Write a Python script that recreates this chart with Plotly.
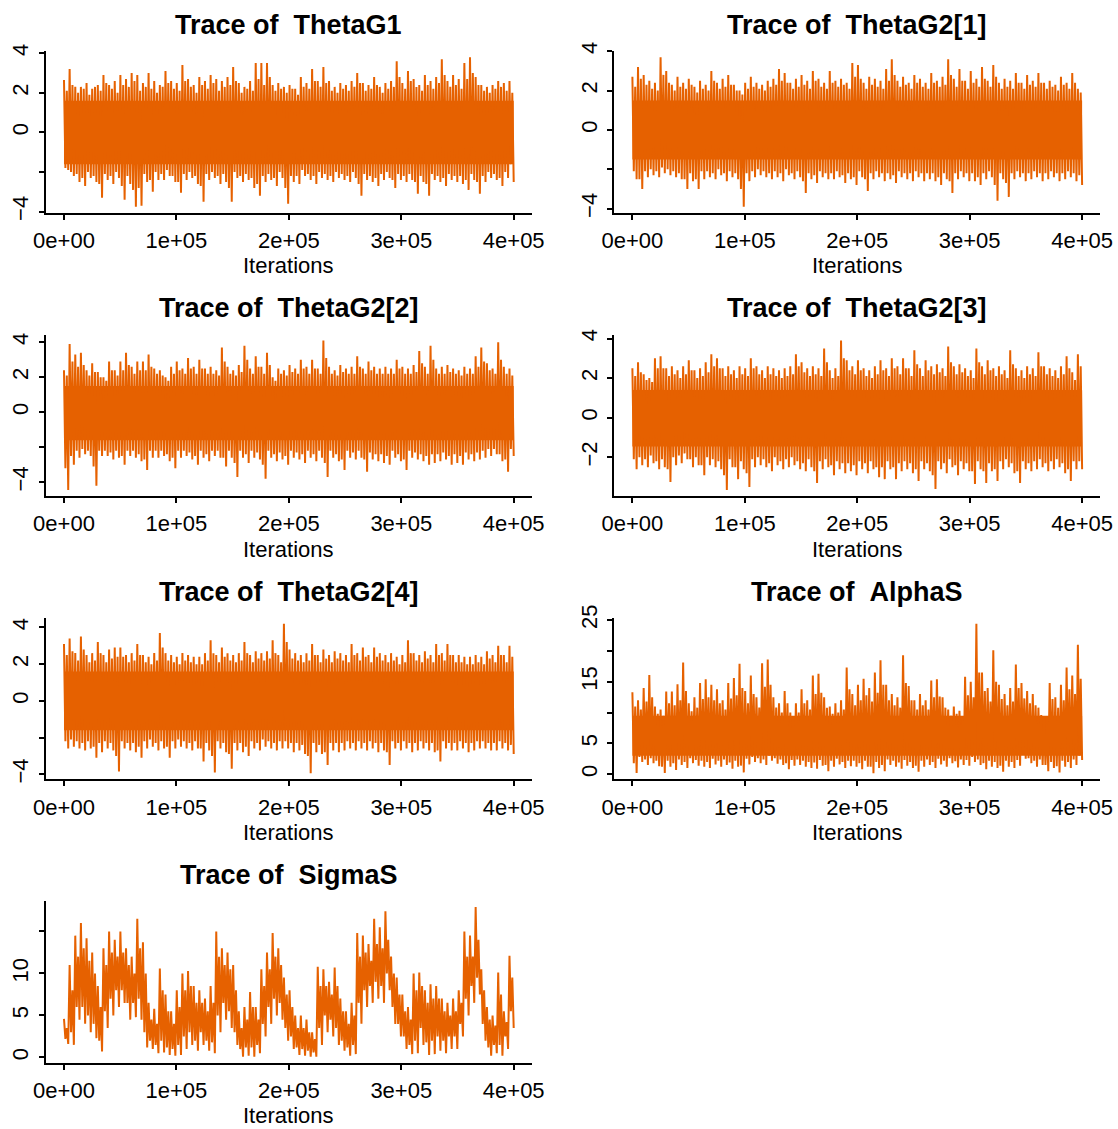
import numpy as np
import plotly.graph_objects as go

# ---------------- data ----------------
# Each chain is summarised in 80 bins of 5000 iterations:
#   hi / lo   = highest / lowest excursion in the bin
#   hi2 / lo2 = secondary (typical) excursion in the bin
#   core      = range that the chain covers solidly
n_iter = 400000
x_tickvals = [0, 100000, 200000, 300000, 400000]
x_ticktext = ["0e+00", "1e+05", "2e+05", "3e+05", "4e+05"]

thetaG1_hi = [2.65, 3.2, 2.3, 2.3, 2.5, 2.2, 2.4, 2.9, 2.4, 2.6, 2.9, 2.7, 3.0, 2.9, 2.5, 3.0, 2.6, 2.4, 3.1, 2.6,
              2.5, 3.4, 2.7, 2.4, 2.8, 2.6, 2.9, 2.7, 2.6, 2.8, 3.3, 2.5, 2.3, 2.6, 3.5, 3.5, 3.5, 2.4, 2.5, 2.3,
              2.4, 2.2, 2.8, 2.5, 3.2, 2.6, 3.3, 2.6, 2.3, 2.5, 2.4, 2.6, 3.0, 2.5, 2.4, 2.8, 2.3, 2.5, 2.6, 3.6,
              2.5, 3.1, 2.7, 2.4, 2.9, 2.6, 2.8, 3.7, 2.6, 2.9, 2.7, 3.5, 3.8, 2.8, 2.4, 2.3, 2.4, 2.6, 2.5, 2.6]
thetaG1_lo = [-1.9, -2.2, -2.5, -2.7, -2.3, -2.5, -3.3, -2.4, -2.6, -2.3, -3.4, -2.6, -3.75, -3.7, -2.5, -3.0, -2.4, -2.4, -2.2, -2.5,
              -3.05, -2.4, -2.3, -2.6, -3.5, -2.4, -2.3, -2.6, -2.5, -3.5, -2.3, -2.5, -2.4, -2.8, -3.2, -2.5, -2.4, -2.7, -2.3, -3.6,
              -2.5, -2.6, -2.2, -2.4, -2.6, -2.3, -2.4, -2.5, -2.3, -2.4, -2.5, -2.3, -3.2, -2.4, -2.5, -2.7, -2.4, -2.3, -2.8, -2.4,
              -2.5, -2.4, -3.1, -2.5, -3.2, -2.4, -2.5, -2.7, -2.4, -2.5, -2.6, -2.9, -2.4, -3.1, -2.5, -2.3, -2.4, -2.7, -2.3, -2.5]
thetaG1_hi2 = [2.1, 2.4, 2.0, 2.2, 1.9, 2.3, 2.1, 2.5, 2.2, 2.0, 2.4, 2.3, 2.6, 2.1, 2.3, 2.2, 2.0, 2.3, 2.5, 2.2,
               2.1, 2.6, 2.3, 2.0, 2.4, 2.2, 2.5, 2.1, 2.3, 2.4, 2.6, 2.0, 2.2, 2.1, 2.7, 2.4, 2.8, 2.1, 2.2, 2.0,
               2.2, 1.9, 2.3, 2.2, 2.6, 2.3, 2.5, 2.1, 2.0, 2.2, 2.1, 2.3, 2.5, 2.1, 2.2, 2.4, 2.0, 2.2, 2.3, 2.8,
               2.2, 2.6, 2.3, 2.1, 2.4, 2.2, 2.5, 2.9, 2.3, 2.4, 2.2, 2.7, 3.0, 2.4, 2.1, 2.0, 2.2, 2.3, 2.1, 2.0]
thetaG1_lo2 = [-1.8, -2.0, -2.1, -2.3, -2.0, -2.2, -2.6, -2.1, -2.2, -2.0, -2.7, -2.2, -2.9, -2.8, -2.1, -2.4, -2.0, -2.1, -1.9, -2.2,
               -2.5, -2.1, -2.0, -2.2, -2.7, -2.1, -2.0, -2.2, -2.1, -2.8, -2.0, -2.2, -2.1, -2.3, -2.6, -2.2, -2.1, -2.3, -2.0, -2.8,
               -2.2, -2.2, -1.9, -2.1, -2.2, -2.0, -2.1, -2.2, -2.0, -2.1, -2.2, -2.0, -2.6, -2.1, -2.2, -2.3, -2.1, -2.0, -2.4, -2.1,
               -2.2, -2.1, -2.5, -2.2, -2.6, -2.1, -2.2, -2.3, -2.1, -2.2, -2.2, -2.4, -2.1, -2.5, -2.2, -2.0, -2.1, -2.3, -2.0, -1.6]
thetaG1_core = [-1.6, 1.6]

thetaG2_1_hi = [2.7, 3.2, 2.8, 2.5, 2.4, 3.7, 3.0, 2.3, 2.7, 2.4, 2.6, 2.2, 2.5, 2.3, 3.0, 2.4, 2.6, 2.8, 2.3, 2.0,
                2.4, 2.7, 2.4, 2.3, 2.5, 2.6, 3.1, 2.9, 2.4, 2.6, 2.8, 2.5, 3.0, 2.6, 2.4, 3.0, 2.5, 2.6, 2.4, 3.4,
                3.3, 2.4, 2.7, 2.6, 2.5, 3.1, 3.6, 2.5, 2.7, 2.4, 2.8, 2.6, 2.4, 2.9, 2.5, 2.7, 3.6, 2.6, 3.1, 2.5,
                3.0, 2.6, 3.2, 2.5, 3.3, 2.4, 2.6, 2.5, 2.9, 2.4, 2.8, 2.5, 2.9, 2.4, 2.5, 2.3, 2.7, 2.4, 2.9, 2.1]
thetaG2_1_lo = [-2.5, -3.0, -2.4, -2.3, -2.4, -2.2, -2.3, -2.4, -2.5, -3.0, -2.6, -3.0, -2.5, -2.4, -2.5, -2.3, -2.6, -2.4, -2.5, -3.9,
                -2.6, -2.4, -2.3, -2.4, -2.5, -2.4, -2.6, -2.3, -2.5, -2.4, -3.2, -2.5, -2.7, -2.4, -2.5, -2.5, -2.4, -2.7, -2.5, -2.8,
                -2.4, -3.1, -2.5, -2.4, -2.6, -2.5, -2.7, -2.4, -2.5, -2.6, -2.4, -2.6, -2.5, -2.6, -2.8, -2.5, -3.2, -2.5, -2.4, -2.6,
                -2.6, -2.8, -2.5, -2.4, -3.6, -2.5, -3.4, -2.5, -2.4, -2.6, -2.5, -2.4, -2.6, -2.5, -2.4, -2.6, -2.5, -2.4, -2.6, -2.8]
thetaG2_1_hi2 = [2.2, 2.6, 2.3, 2.1, 2.0, 2.8, 2.4, 2.0, 2.2, 2.1, 2.3, 1.9, 2.1, 2.0, 2.5, 2.1, 2.2, 2.3, 2.0, 1.8,
                 2.1, 2.2, 2.1, 2.0, 2.2, 2.3, 2.5, 2.4, 2.1, 2.2, 2.3, 2.1, 2.5, 2.2, 2.1, 2.4, 2.2, 2.3, 2.1, 2.7,
                 2.6, 2.1, 2.3, 2.2, 2.1, 2.5, 2.8, 2.2, 2.3, 2.1, 2.4, 2.2, 2.1, 2.4, 2.2, 2.3, 2.8, 2.2, 2.5, 2.1,
                 2.4, 2.2, 2.6, 2.2, 2.7, 2.1, 2.2, 2.1, 2.4, 2.1, 2.3, 2.2, 2.4, 2.1, 2.2, 2.0, 2.3, 2.1, 2.4, 1.9]
thetaG2_1_lo2 = [-2.1, -2.5, -2.1, -2.0, -2.1, -1.9, -2.0, -2.1, -2.2, -2.5, -2.2, -2.5, -2.1, -2.1, -2.2, -2.0, -2.2, -2.1, -2.2, -3.0,
                 -2.2, -2.1, -2.0, -2.1, -2.2, -2.1, -2.2, -2.0, -2.2, -2.1, -2.6, -2.2, -2.3, -2.1, -2.2, -2.2, -2.1, -2.3, -2.2, -2.4,
                 -2.1, -2.5, -2.2, -2.1, -2.2, -2.2, -2.3, -2.1, -2.2, -2.2, -2.1, -2.2, -2.2, -2.2, -2.4, -2.2, -2.6, -2.2, -2.1, -2.2,
                 -2.2, -2.4, -2.2, -2.1, -2.8, -2.2, -2.7, -2.2, -2.1, -2.2, -2.2, -2.1, -2.2, -2.2, -2.1, -2.2, -2.2, -2.1, -2.2, -2.3]
thetaG2_1_core = [-1.5, 1.5]

thetaG2_2_hi = [2.4, 3.9, 3.3, 3.4, 2.4, 2.8, 2.3, 2.0, 2.9, 2.4, 2.9, 3.4, 2.6, 2.9, 2.9, 3.3, 2.5, 2.4, 2.0, 2.6,
                2.9, 2.5, 3.1, 2.6, 3.0, 2.5, 2.6, 2.4, 3.7, 2.6, 2.4, 2.7, 3.8, 2.5, 3.2, 2.6, 3.4, 2.0, 2.5, 2.4,
                2.7, 2.5, 3.0, 2.6, 3.0, 2.5, 4.1, 2.6, 2.4, 2.7, 2.5, 2.6, 3.2, 2.5, 2.9, 2.6, 2.5, 2.6, 2.5, 3.0,
                2.6, 2.5, 2.7, 3.5, 2.6, 3.8, 2.5, 2.6, 2.7, 2.5, 2.4, 2.6, 2.5, 3.2, 3.7, 2.8, 2.5, 4.0, 2.6, 2.5]
thetaG2_2_lo = [-4.45, -3.0, -2.6, -2.4, -2.5, -4.2, -2.5, -2.5, -2.7, -2.6, -3.0, -2.5, -2.6, -2.8, -3.3, -2.6, -2.6, -2.5, -2.8, -3.2,
                -2.6, -2.5, -2.7, -3.0, -2.6, -2.8, -2.5, -2.6, -3.1, -2.6, -3.7, -2.6, -2.9, -2.6, -2.7, -3.8, -2.6, -2.8, -2.7, -3.0,
                -2.6, -2.7, -2.9, -2.6, -2.8, -2.6, -3.7, -2.6, -2.8, -3.3, -2.6, -2.7, -2.6, -3.4, -2.7, -2.8, -2.9, -3.0, -2.6, -2.8,
                -3.3, -2.6, -2.7, -2.8, -3.0, -2.9, -2.8, -2.7, -3.0, -2.9, -3.0, -2.7, -2.8, -2.7, -2.6, -2.5, -2.4, -2.8, -3.4, -2.5]
thetaG2_2_hi2 = [2.1, 2.9, 2.6, 2.7, 2.1, 2.3, 2.0, 1.8, 2.4, 2.1, 2.4, 2.7, 2.2, 2.4, 2.4, 2.6, 2.2, 2.1, 1.8, 2.2,
                 2.4, 2.2, 2.5, 2.2, 2.5, 2.2, 2.2, 2.1, 2.9, 2.2, 2.1, 2.3, 3.0, 2.2, 2.6, 2.2, 2.7, 1.8, 2.2, 2.1,
                 2.3, 2.2, 2.5, 2.2, 2.5, 2.2, 3.1, 2.2, 2.1, 2.3, 2.2, 2.2, 2.6, 2.2, 2.4, 2.2, 2.2, 2.2, 2.2, 2.5,
                 2.2, 2.2, 2.3, 2.8, 2.2, 3.0, 2.2, 2.2, 2.3, 2.2, 2.1, 2.2, 2.2, 2.6, 2.9, 2.4, 2.2, 3.0, 2.2, 2.1]
thetaG2_2_lo2 = [-3.2, -2.5, -2.2, -2.1, -2.2, -3.1, -2.2, -2.2, -2.3, -2.2, -2.5, -2.2, -2.2, -2.4, -2.7, -2.2, -2.2, -2.2, -2.4, -2.6,
                 -2.2, -2.2, -2.3, -2.5, -2.2, -2.4, -2.2, -2.2, -2.6, -2.2, -2.9, -2.2, -2.4, -2.2, -2.3, -3.0, -2.2, -2.4, -2.3, -2.5,
                 -2.2, -2.3, -2.4, -2.2, -2.4, -2.2, -2.9, -2.2, -2.4, -2.7, -2.2, -2.3, -2.2, -2.7, -2.3, -2.4, -2.4, -2.5, -2.2, -2.4,
                 -2.7, -2.2, -2.3, -2.4, -2.5, -2.4, -2.4, -2.3, -2.5, -2.4, -2.5, -2.3, -2.4, -2.3, -2.2, -2.1, -2.1, -2.4, -2.7, -2.1]
thetaG2_2_core = [-1.6, 1.5]

thetaG2_3_hi = [2.5, 2.8, 2.2, 2.0, 3.0, 3.1, 2.5, 2.6, 2.4, 2.6, 2.9, 2.4, 2.5, 2.8, 3.2, 3.0, 2.5, 2.6, 2.4, 2.6,
                2.5, 3.0, 2.6, 2.4, 2.6, 2.5, 2.4, 2.5, 2.6, 3.2, 2.8, 2.5, 2.6, 2.5, 3.5, 2.4, 2.5, 3.9, 2.9, 2.6,
                2.9, 2.5, 2.4, 2.6, 2.9, 2.5, 3.0, 2.6, 3.0, 2.5, 3.4, 2.5, 2.9, 2.6, 2.7, 2.5, 3.6, 2.6, 2.7, 2.5,
                2.4, 3.5, 2.6, 2.9, 2.5, 2.6, 2.4, 3.4, 2.5, 2.4, 2.6, 2.5, 3.3, 2.6, 2.5, 2.4, 2.6, 3.1, 2.3, 3.2]
thetaG2_3_lo = [-2.6, -2.4, -2.5, -2.3, -2.6, -2.5, -3.25, -2.4, -2.3, -2.1, -2.5, -2.4, -2.9, -2.4, -2.5, -2.6, -3.65, -2.5, -3.1, -2.6,
                -3.5, -2.5, -2.4, -2.5, -2.7, -2.4, -2.6, -2.5, -2.4, -2.6, -2.7, -2.5, -3.3, -2.6, -2.5, -2.9, -2.6, -2.8, -2.7, -2.9,
                -2.6, -2.8, -2.6, -3.0, -3.1, -2.6, -3.1, -2.7, -2.6, -2.8, -3.2, -2.6, -2.7, -3.6, -2.6, -2.8, -2.5, -2.9, -2.6, -2.7,
                -3.35, -2.6, -3.3, -2.7, -3.2, -2.6, -2.5, -2.8, -3.3, -2.6, -2.7, -2.6, -2.5, -2.7, -2.6, -2.5, -2.8, -3.2, -2.6, -2.6]
thetaG2_3_hi2 = [2.1, 2.3, 1.9, 1.8, 2.5, 2.5, 2.1, 2.2, 2.0, 2.2, 2.4, 2.0, 2.1, 2.3, 2.6, 2.5, 2.1, 2.2, 2.0, 2.2,
                 2.1, 2.5, 2.2, 2.0, 2.2, 2.1, 2.0, 2.1, 2.2, 2.6, 2.3, 2.1, 2.2, 2.1, 2.8, 2.0, 2.1, 3.0, 2.4, 2.2,
                 2.4, 2.1, 2.0, 2.2, 2.4, 2.1, 2.5, 2.2, 2.5, 2.1, 2.7, 2.1, 2.4, 2.2, 2.3, 2.1, 2.8, 2.2, 2.3, 2.1,
                 2.0, 2.8, 2.2, 2.4, 2.1, 2.2, 2.0, 2.7, 2.1, 2.0, 2.2, 2.1, 2.6, 2.2, 2.1, 2.0, 2.2, 2.5, 1.9, 2.6]
thetaG2_3_lo2 = [-2.1, -2.0, -2.1, -1.9, -2.2, -2.1, -2.6, -2.0, -1.9, -1.8, -2.1, -2.0, -2.4, -2.0, -2.1, -2.2, -2.9, -2.1, -2.5, -2.2,
                 -2.8, -2.1, -2.0, -2.1, -2.3, -2.0, -2.2, -2.1, -2.0, -2.2, -2.3, -2.1, -2.7, -2.2, -2.1, -2.4, -2.2, -2.3, -2.3, -2.4,
                 -2.2, -2.3, -2.2, -2.5, -2.5, -2.2, -2.5, -2.3, -2.2, -2.3, -2.6, -2.2, -2.3, -2.9, -2.2, -2.3, -2.1, -2.4, -2.2, -2.3,
                 -2.7, -2.2, -2.7, -2.3, -2.6, -2.2, -2.1, -2.3, -2.7, -2.2, -2.3, -2.2, -2.1, -2.3, -2.2, -2.1, -2.3, -2.6, -2.2, -2.2]
thetaG2_3_core = [-1.45, 1.4]

thetaG2_4_hi = [3.1, 3.4, 2.6, 3.5, 2.5, 2.6, 3.2, 2.5, 2.8, 2.9, 2.9, 2.5, 2.6, 3.1, 2.5, 2.4, 2.6, 3.7, 2.6, 2.5,
                2.4, 2.6, 2.5, 2.4, 2.4, 2.6, 3.3, 2.5, 2.9, 2.6, 2.5, 2.6, 3.2, 2.5, 2.7, 2.6, 2.7, 3.3, 2.5, 4.2,
                2.8, 2.6, 2.5, 2.6, 3.1, 2.5, 2.8, 2.5, 2.7, 2.6, 2.5, 3.1, 2.6, 2.9, 2.5, 2.9, 2.6, 2.5, 2.6, 2.4,
                2.5, 3.3, 2.6, 2.5, 2.7, 2.5, 3.1, 2.6, 3.1, 2.5, 2.5, 2.4, 2.4, 2.5, 2.4, 2.7, 2.5, 3.0, 2.5, 3.0]
thetaG2_4_lo = [-2.6, -2.5, -2.6, -2.7, -2.6, -3.1, -2.8, -2.6, -2.7, -3.85, -2.6, -2.7, -2.8, -3.1, -2.6, -2.5, -2.7, -2.6, -3.1, -2.6,
                -2.5, -2.6, -2.7, -2.6, -3.3, -2.7, -3.9, -2.6, -2.8, -3.7, -2.7, -2.8, -3.0, -2.6, -2.7, -2.5, -2.6, -2.7, -2.6, -2.6,
                -2.8, -2.7, -2.9, -3.95, -2.8, -2.9, -3.5, -2.7, -2.8, -2.7, -2.6, -2.7, -2.6, -2.7, -2.6, -2.8, -2.7, -3.5, -2.6, -2.7,
                -2.6, -2.8, -2.7, -2.6, -2.7, -2.8, -3.3, -2.6, -2.7, -2.7, -2.6, -2.8, -2.7, -2.6, -2.6, -2.7, -2.7, -2.6, -2.7, -2.9]
thetaG2_4_hi2 = [2.5, 2.7, 2.2, 2.8, 2.1, 2.2, 2.6, 2.1, 2.3, 2.4, 2.4, 2.1, 2.2, 2.5, 2.1, 2.0, 2.2, 2.9, 2.2, 2.1,
                 2.0, 2.2, 2.1, 2.0, 2.0, 2.2, 2.6, 2.1, 2.4, 2.2, 2.1, 2.2, 2.6, 2.1, 2.3, 2.2, 2.3, 2.6, 2.1, 3.2,
                 2.3, 2.2, 2.1, 2.2, 2.5, 2.1, 2.3, 2.1, 2.3, 2.2, 2.1, 2.5, 2.2, 2.4, 2.1, 2.4, 2.2, 2.1, 2.2, 2.0,
                 2.1, 2.6, 2.2, 2.1, 2.3, 2.1, 2.5, 2.2, 2.5, 2.1, 2.1, 2.0, 2.0, 2.1, 2.0, 2.3, 2.1, 2.5, 2.1, 2.4]
thetaG2_4_lo2 = [-2.2, -2.1, -2.2, -2.3, -2.2, -2.5, -2.3, -2.2, -2.3, -3.0, -2.2, -2.3, -2.3, -2.5, -2.2, -2.1, -2.3, -2.2, -2.5, -2.2,
                 -2.1, -2.2, -2.3, -2.2, -2.6, -2.3, -3.0, -2.2, -2.3, -2.9, -2.3, -2.3, -2.5, -2.2, -2.3, -2.1, -2.2, -2.3, -2.2, -2.2,
                 -2.3, -2.3, -2.4, -3.0, -2.3, -2.4, -2.8, -2.3, -2.3, -2.3, -2.2, -2.3, -2.2, -2.3, -2.2, -2.3, -2.3, -2.8, -2.2, -2.3,
                 -2.2, -2.3, -2.3, -2.2, -2.3, -2.3, -2.7, -2.2, -2.3, -2.3, -2.2, -2.3, -2.3, -2.2, -2.2, -2.3, -2.3, -2.2, -2.3, -2.4]
thetaG2_4_core = [-1.6, 1.6]

alphaS_hi = [13.3, 12.0, 14.0, 16.1, 11.0, 10.5, 13.4, 13.4, 14.6, 18.1, 11.5, 12.5, 14.8, 15.4, 14.5, 13.8, 12.0, 14.8, 15.6, 17.9,
             13.5, 16.0, 12.5, 18.0, 18.6, 12.5, 11.5, 13.5, 10.0, 11.5, 13.8, 12.0, 16.0, 16.3, 12.5, 11.0, 11.5, 12.0, 17.3, 13.0,
             14.5, 15.5, 14.0, 16.5, 18.5, 14.5, 13.0, 12.5, 19.3, 14.3, 12.0, 13.0, 12.0, 15.2, 15.4, 12.5, 10.5, 11.0, 10.3, 15.8,
             15.0, 24.4, 16.5, 14.0, 20.1, 14.5, 13.0, 14.0, 17.8, 14.8, 13.5, 13.0, 10.8, 9.0, 14.8, 12.5, 14.5, 17.3, 16.0, 21.0]
alphaS_lo = [0.2, 2.0, 1.5, 1.8, 1.3, 0.2, 1.2, 0.7, 1.5, 1.0, 1.8, 1.4, 1.2, 1.0, 1.6, 1.2, 1.5, 0.9, 1.2, 0.3,
             1.6, 2.0, 1.8, 1.5, 2.2, 1.7, 1.5, 0.8, 1.4, 1.5, 1.2, 1.0, 0.9, 1.4, 0.5, 1.2, 1.6, 1.0, 1.3, 1.2,
             0.8, 1.2, 0.15, 1.0, 0.5, 1.5, 1.2, 0.9, 1.4, 1.0, 0.4, 1.2, 1.5, 1.0, 1.6, 1.2, 1.8, 1.1, 1.5, 1.4,
             2.0, 1.5, 0.8, 1.2, 1.0, 0.4, 1.2, 1.0, 1.4, 2.5, 1.8, 1.2, 1.5, 0.5, 1.0, 0.3, 1.2, 1.0, 1.5, 2.3]
alphaS_hi2 = [11.0, 10.5, 11.8, 12.5, 9.8, 9.5, 11.5, 11.2, 12.0, 13.5, 10.2, 10.8, 12.2, 12.5, 12.0, 11.5, 10.5, 12.3, 12.8, 14.0,
              11.5, 13.0, 10.8, 14.2, 14.5, 10.8, 10.0, 11.5, 9.2, 10.0, 11.5, 10.5, 13.0, 13.2, 10.8, 9.8, 10.0, 10.5, 13.8, 11.2,
              12.0, 12.8, 11.8, 13.2, 14.5, 12.0, 11.2, 10.8, 14.8, 12.0, 10.5, 11.2, 10.5, 12.5, 12.6, 10.8, 9.5, 9.8, 9.2, 12.8,
              12.5, 16.5, 13.5, 11.8, 15.0, 12.2, 11.2, 11.8, 14.0, 12.3, 11.5, 11.2, 9.6, 8.2, 12.2, 10.8, 12.0, 13.8, 13.0, 15.5]
alphaS_lo2 = [1.8, 2.8, 2.4, 2.6, 2.2, 1.2, 2.2, 1.8, 2.4, 2.0, 2.6, 2.3, 2.2, 2.0, 2.5, 2.2, 2.4, 1.9, 2.2, 1.4,
              2.5, 2.8, 2.6, 2.4, 3.0, 2.6, 2.4, 1.8, 2.3, 2.4, 2.2, 2.0, 1.9, 2.3, 1.5, 2.2, 2.5, 2.0, 2.2, 2.2,
              1.8, 2.2, 1.2, 2.0, 1.5, 2.4, 2.2, 1.9, 2.3, 2.0, 1.4, 2.2, 2.4, 2.0, 2.5, 2.2, 2.6, 2.1, 2.4, 2.3,
              2.8, 2.4, 1.8, 2.2, 2.0, 1.4, 2.2, 2.0, 2.3, 3.2, 2.6, 2.2, 2.4, 1.5, 2.0, 1.3, 2.2, 2.0, 2.4, 3.0]
alphaS_core = [3.0, 9.5]

sigmaS_hi = [4.6, 11.0, 14.5, 16.0, 14.2, 12.5, 8.5, 13.0, 15.0, 14.0, 15.0, 13.0, 12.0, 16.5, 13.7, 6.5, 5.8, 10.6, 7.5, 5.5,
             8.0, 10.0, 10.3, 8.5, 8.0, 7.0, 8.5, 15.0, 13.0, 12.5, 11.0, 5.5, 6.0, 7.8, 6.0, 10.5, 12.5, 14.8, 13.0, 9.5,
             8.0, 5.0, 5.0, 4.5, 3.0, 10.8, 10.5, 9.0, 10.7, 7.0, 5.5, 6.5, 14.8, 14.5, 13.5, 16.5, 15.5, 17.4, 12.0, 9.5,
             7.5, 6.0, 10.0, 10.1, 8.0, 8.7, 8.5, 7.0, 6.5, 7.0, 8.0, 15.0, 14.5, 17.9, 10.5, 6.0, 5.0, 10.1, 5.5, 12.1]
sigmaS_lo = [1.6, 1.5, 4.5, 4.0, 3.0, 2.3, 0.7, 3.5, 5.0, 6.0, 6.5, 4.5, 4.8, 4.5, 1.2, 1.0, 0.5, 0.6, 0.3, 0.2,
             0.3, 1.0, 1.5, 0.8, 1.5, 0.8, 0.5, 3.0, 4.5, 3.5, 1.5, 0.1, 0.2, 0.1, 0.5, 2.5, 4.0, 5.0, 4.5, 2.0,
             1.0, 0.3, 0.2, 0.1, 0.1, 1.5, 3.0, 2.5, 1.5, 0.8, 0.2, 0.4, 4.0, 6.0, 6.5, 7.0, 6.5, 8.0, 4.0, 2.5,
             1.0, 0.4, 0.5, 1.5, 0.3, 0.4, 0.8, 0.5, 1.0, 1.0, 2.5, 5.0, 6.5, 7.5, 2.0, 0.2, 0.5, 0.2, 1.0, 3.5]
sigmaS_hi2 = [3.5, 8.0, 12.0, 13.0, 11.5, 10.0, 6.0, 11.0, 12.5, 12.0, 12.5, 11.0, 10.0, 13.0, 10.0, 4.5, 4.0, 8.0, 5.5, 4.0,
              6.0, 8.0, 8.5, 6.5, 6.5, 5.5, 6.5, 12.0, 11.0, 10.5, 8.0, 3.5, 4.5, 6.0, 4.5, 8.5, 10.5, 12.0, 11.0, 7.5,
              6.0, 3.5, 3.5, 3.0, 2.2, 8.5, 8.5, 7.5, 8.5, 5.5, 4.0, 5.0, 12.0, 12.5, 11.5, 13.5, 13.0, 14.0, 10.0, 7.5,
              5.5, 4.5, 8.0, 8.5, 6.5, 7.0, 7.0, 5.5, 5.0, 5.5, 6.5, 12.0, 12.0, 14.0, 8.0, 4.5, 3.8, 7.5, 4.2, 9.5]
sigmaS_lo2 = [2.2, 3.0, 6.0, 6.0, 5.0, 4.0, 2.0, 5.5, 7.0, 8.0, 8.0, 6.5, 6.5, 7.0, 3.0, 2.0, 1.5, 2.0, 1.2, 1.0,
              1.5, 2.5, 3.0, 2.0, 3.0, 2.0, 1.8, 5.0, 6.5, 5.5, 3.0, 1.0, 1.2, 1.2, 1.5, 4.0, 6.0, 7.0, 6.5, 3.5,
              2.5, 1.2, 1.0, 0.8, 0.6, 3.5, 5.0, 4.5, 3.5, 2.0, 1.2, 1.5, 6.5, 8.0, 8.5, 9.0, 8.5, 10.0, 6.0, 4.0,
              2.5, 1.5, 2.0, 3.5, 1.8, 2.0, 2.5, 2.0, 2.5, 2.5, 4.0, 7.0, 8.5, 9.5, 4.0, 1.2, 1.5, 1.5, 2.5, 5.5]
sigmaS_core = None

theta_ticks = [-4, -2, 0, 2, 4]
theta_labels = ["\u22124", "", "0", "2", "4"]
theta3_ticks = [-2, 0, 2, 4]
theta3_labels = ["\u22122", "0", "2", "4"]
alpha_ticks = [0, 5, 10, 15, 20, 25]
alpha_labels = ["0", "5", "", "15", "", "25"]
sigma_ticks = [0, 5, 10, 15]
sigma_labels = ["0", "5", "10", ""]

panels = [
    ("ThetaG1", thetaG1_hi, thetaG1_lo2, thetaG1_hi2, thetaG1_lo, thetaG1_core, theta_ticks, theta_labels),
    ("ThetaG2[1]", thetaG2_1_hi, thetaG2_1_lo2, thetaG2_1_hi2, thetaG2_1_lo, thetaG2_1_core, theta_ticks, theta_labels),
    ("ThetaG2[2]", thetaG2_2_hi, thetaG2_2_lo2, thetaG2_2_hi2, thetaG2_2_lo, thetaG2_2_core, theta_ticks, theta_labels),
    ("ThetaG2[3]", thetaG2_3_hi, thetaG2_3_lo2, thetaG2_3_hi2, thetaG2_3_lo, thetaG2_3_core, theta3_ticks, theta3_labels),
    ("ThetaG2[4]", thetaG2_4_hi, thetaG2_4_lo2, thetaG2_4_hi2, thetaG2_4_lo, thetaG2_4_core, theta_ticks, theta_labels),
    ("AlphaS", alphaS_hi, alphaS_lo2, alphaS_hi2, alphaS_lo, alphaS_core, alpha_ticks, alpha_labels),
    ("SigmaS", sigmaS_hi, sigmaS_lo2, sigmaS_hi2, sigmaS_lo, sigmaS_core, sigma_ticks, sigma_labels),
]

# ---------------- layout geometry (pixels) ----------------
W, H = 1118, 1129
COLOR = "#E66100"
FONT = "Liberation Sans, Arial, Helvetica, sans-serif"
col_left = [46.0, 614.4]
col_right = [531.7, 1100.1]
row_bottom0 = 212.7
row_step = 283.3
plot_h = 161.5

fig = go.Figure()
annotations = []
layout = {}

for k, (name, hi, lo2, hi2, lo, core, tv, tt) in enumerate(panels):
    r, c = divmod(k, 2)
    idx = "" if k == 0 else str(k + 1)
    xa, ya = "x" + idx, "y" + idx
    # chain summary in iteration order: per bin  max -> secondary low -> secondary high -> min
    vals = np.column_stack([np.asarray(a, float) for a in (hi, lo2, hi2, lo)]).ravel()
    iters = np.linspace(1, n_iter, vals.size)
    if core is not None:
        fig.add_trace(go.Scatter(x=[1, n_iter, n_iter, 1], y=[core[1], core[1], core[0], core[0]],
                                 mode="lines", fill="toself", fillcolor=COLOR,
                                 line=dict(color=COLOR, width=0), xaxis=xa, yaxis=ya,
                                 showlegend=False, hoverinfo="skip"))
    fig.add_trace(go.Scatter(x=iters, y=vals, mode="lines",
                             line=dict(color=COLOR, width=2),
                             xaxis=xa, yaxis=ya, showlegend=False, hoverinfo="skip"))
    ymin, ymax = float(vals.min()), float(vals.max())
    d = ymax - ymin
    bottom = row_bottom0 + r * row_step
    top = bottom - plot_h
    xd = [col_left[c] / W, col_right[c] / W]
    yd = [1 - bottom / H, 1 - top / H]
    common = dict(showline=True, linecolor="black", linewidth=2, ticks="outside",
                  ticklen=5, tickwidth=2, tickcolor="black", showgrid=False, zeroline=False,
                  automargin=False,
                  tickfont=dict(family=FONT, size=22, color="black"))
    layout["xaxis" + idx] = dict(domain=xd, anchor=ya, range=[1 - 0.04 * (n_iter - 1), n_iter + 0.04 * (n_iter - 1)],
                                 tickvals=x_tickvals, ticktext=x_ticktext, ticklabelstandoff=2, **common)
    layout["yaxis" + idx] = dict(domain=yd, anchor=xa, range=[ymin - 0.04 * d, ymax + 0.04 * d],
                                 tickvals=tv, ticktext=tt, tickangle=-90, ticklabelstandoff=2, **common)
    cx = (col_left[c] + col_right[c]) / 2 / W
    annotations.append(dict(text="<b>Trace of \u00a0" + name + "</b>", x=cx, y=1 - (25 + r * row_step) / H,
                            xref="paper", yref="paper", xanchor="center", yanchor="middle", showarrow=False,
                            font=dict(family=FONT, size=27, color="black")))
    annotations.append(dict(text="Iterations", x=cx, y=1 - (266 + r * row_step) / H,
                            xref="paper", yref="paper", xanchor="center", yanchor="middle", showarrow=False,
                            font=dict(family=FONT, size=22, color="black")))

fig.update_layout(template="none", width=W, height=H, margin=dict(l=0, r=0, t=0, b=0, pad=0, autoexpand=False),
                  paper_bgcolor="white", plot_bgcolor="white",
                  annotations=annotations, **layout)
fig.write_html("out.html")
